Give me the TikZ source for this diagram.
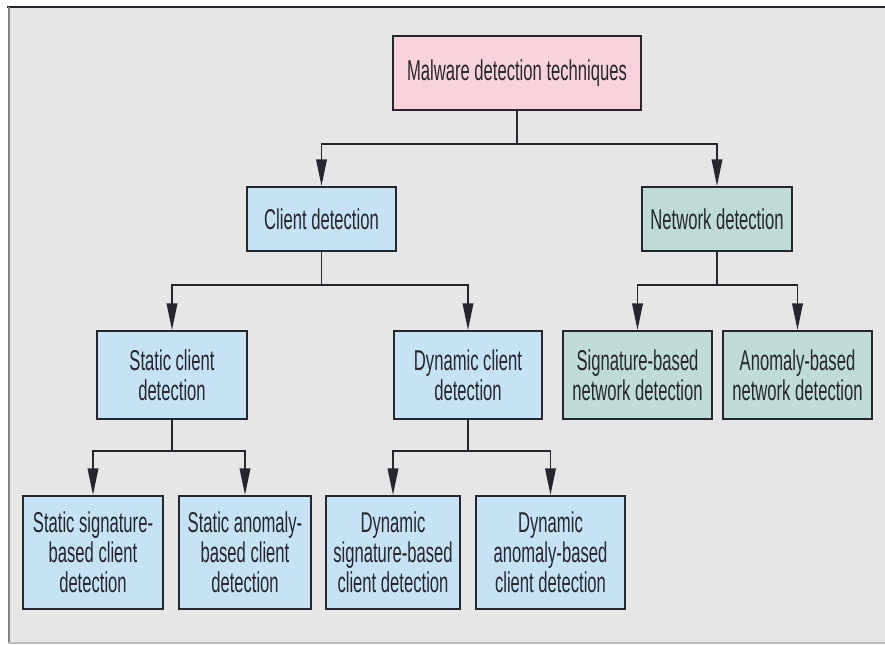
\documentclass[tikz,border=0pt]{standalone}
\usepackage{fontspec}
\setmainfont{Liberation Sans}[FakeStretch=0.58]
\usepackage{tikz}
\usetikzlibrary{arrows.meta}

\definecolor{rootpink}{RGB}{249,211,219}
\definecolor{clientblue}{RGB}{198,226,245}
\definecolor{netgreen}{RGB}{192,220,214}
\definecolor{panelgrey}{RGB}{230,230,230}
\definecolor{inkdark}{RGB}{38,38,46}

\tikzset{
  box/.style={draw=inkdark, line width=1.6pt, align=center, inner sep=0pt,
    text=inkdark, font=\fontsize{21.5pt}{22.5pt}\selectfont},
  link/.style={draw=inkdark, line width=1.2pt},
  arr/.style={link, -{Triangle[length=20pt,width=8pt]}},
}

\begin{document}
\begin{tikzpicture}[x=0.75pt,y=0.75pt,yscale=-1,xscale=1]
\useasboundingbox (0,0) rectangle (885,644);

%Shape: Panel
\fill[panelgrey] (8,7) rectangle (892,643);
\draw[line width=1.6pt, inkdark] (7,7) -- (892,7);
\draw[line width=1.5pt, gray] (8.5,7) -- (8.5,643);
\draw[line width=1pt, lightgray] (8,643) -- (892,643);

% Text Node
\node[box, fill=rootpink, minimum width=186pt, minimum height=55.5pt] (root) at (517,73) {Malware detection techniques};
% Text Node
\node[box, fill=clientblue, minimum width=111.75pt, minimum height=48pt] (client) at (321.5,219) {Client detection};
% Text Node
\node[box, fill=netgreen, minimum width=112.5pt, minimum height=48pt] (network) at (717,219) {Network detection};
% Text Node
\node[box, fill=clientblue, minimum width=112.5pt, minimum height=66pt] (static) at (172,375) {Static client\\detection};
% Text Node
\node[box, fill=clientblue, minimum width=111pt, minimum height=66pt] (dynamic) at (468,375) {Dynamic client\\detection};
% Text Node
\node[box, fill=netgreen, minimum width=111.75pt, minimum height=66pt] (signet) at (637.5,375) {Signature-based\\network detection};
% Text Node
\node[box, fill=netgreen, minimum width=111.75pt, minimum height=66pt] (anonet) at (797.5,375) {Anomaly-based\\network detection};
% Text Node
\node[box, fill=clientblue, minimum width=105pt, minimum height=84.75pt] (statsig) at (93,552.5) {Static signature-\\based client\\detection};
% Text Node
\node[box, fill=clientblue, minimum width=99pt, minimum height=84.75pt] (statano) at (245,552.5) {Static anomaly-\\based client\\detection};
% Text Node
\node[box, fill=clientblue, minimum width=100.5pt, minimum height=84.75pt] (dynsig) at (393,552.5) {Dynamic\\signature-based\\client detection};
% Text Node
\node[box, fill=clientblue, minimum width=111.75pt, minimum height=84.75pt] (dynano) at (550.5,552.5) {Dynamic\\anomaly-based\\client detection};

% Junctions
\coordinate (jroot) at (517,144);
\coordinate (jclient) at (321.5,285);
\coordinate (jnet) at (717,285);
\coordinate (jstatic) at (172,451);
\coordinate (jdyn) at (468,451);

%Connectors
\draw[link] (root) -- (jroot);
\draw[arr] (jroot) -| (client);
\draw[arr] (jroot) -| (network);
\draw[link] (client) -- (jclient);
\draw[arr] (jclient) -| (static);
\draw[arr] (jclient) -| (dynamic);
\draw[link] (network) -- (jnet);
\draw[arr] (jnet) -| (signet);
\draw[arr] (jnet) -| (anonet);
\draw[link] (static) -- (jstatic);
\draw[arr] (jstatic) -| (statsig);
\draw[arr] (jstatic) -| (statano);
\draw[link] (dynamic) -- (jdyn);
\draw[arr] (jdyn) -| (dynsig);
\draw[arr] (jdyn) -| (dynano);
\end{tikzpicture}
\end{document}
